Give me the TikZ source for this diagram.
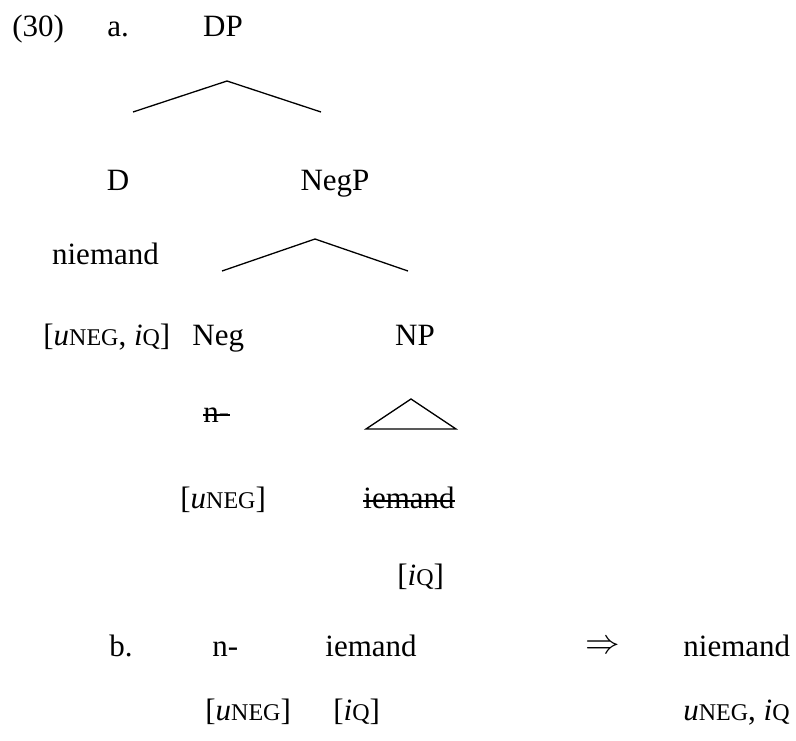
\documentclass[tikz,border=0pt]{standalone}
\usepackage{fontspec}
\setmainfont{Liberation Serif}
\usepackage{tikz}
\usetikzlibrary{positioning}
\newcommand{\fsc}[1]{{\fontsize{12pt}{12pt}\selectfont #1}}

\tikzset{
  lab/.style={inner sep=0pt,anchor=base},
  labw/.style={inner sep=0pt,anchor=base west},
  branch/.style={line width=0.65pt},
  strike/.style={line width=0.8pt}
}

\begin{document}
\begin{tikzpicture}[x=0.5pt,y=-0.5pt,font=\fontsize{15.5pt}{18pt}\selectfont]
	\useasboundingbox (0,0) rectangle (796,740);
	%EXAMPLE a LEVEL 1
	\node [labw] (num) at (12,36) {(30)};
	\node [labw] (ea) at (107,36) {a.};
	\node [lab] (DP) at (223,36) {DP};
	\coordinate (DPt) at (227,81);
	\coordinate (DPl) at (133,112);
	\coordinate (DPr) at (321,112);
	\draw[branch] (DPl) -- (DPt) -- (DPr);
	  %LEVEL 2
	  \node [lab] (D) at (118,190) {D};
	  \node [lab] (NegP) at (335,190) {NegP};
	  \node [lab] (Dw) at (105.5,264) {niemand};
	  \node [labw] (Df) at (43,345) {[\textit{u}\fsc{NEG}, \textit{i}\fsc{Q}]};
	  \coordinate (NegPt) at (315,239);
	  \coordinate (NegPl) at (222,271);
	  \coordinate (NegPr) at (408,271);
	  \draw[branch] (NegPl) -- (NegPt) -- (NegPr);
		%LEVEL 3
		\node [labw] (Neg) at (192,345) {Neg};
		\node [lab] (NP) at (415,345) {NP};
		\node [labw] (Negw) at (203,422) {n-};
		\draw[strike] ([yshift=3.5pt]Negw.base west) -- ([yshift=3.5pt]Negw.base east);
		\node [labw] (Negf) at (180,508) {[\textit{u}\fsc{NEG}]};
		\coordinate (NPt) at (411,399);
		\coordinate (NPl) at (366,429);
		\coordinate (NPr) at (456,429);
		\draw[branch] (NPt) -- (NPl) -- (NPr) -- cycle;
		\node [labw] (NPw) at (363,508) {iemand};
		\draw[strike] ([yshift=3.5pt]NPw.base west) -- ([yshift=3.5pt]NPw.base east);
		\node [labw] (NPf) at (397,585) {[\textit{i}\fsc{Q}]};

	%EXAMPLE b
	\node [labw] (eb) at (109,656) {b.};
	\node [labw] (b1) at (212,656) {n-};
	\node [labw] (b2) at (325,656) {iemand};
	\node [inner sep=0pt,font=\fontsize{17.5pt}{18pt}\selectfont] (arr) at (603,647) {$\Rightarrow$};
	\node [labw] (b3) at (683,656) {niemand};
	  \node [labw] (b1f) at (205,720) {[\textit{u}\fsc{NEG}]};
	  \node [labw] (b2f) at (333,720) {[\textit{i}\fsc{Q}]};
	  \node [labw] (b3f) at (683,720) {\textit{u}\fsc{NEG}, \textit{i}\fsc{Q}};
\end{tikzpicture}
\end{document}
